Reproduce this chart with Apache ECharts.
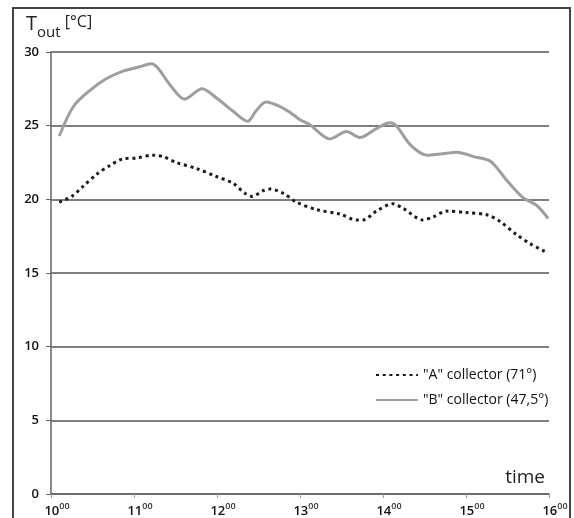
<!DOCTYPE html>
<html>
<head>
<meta charset="utf-8">
<script src="https://cdn.jsdelivr.net/npm/echarts@6/dist/echarts.min.js"></script>
<style>
  html, body { margin: 0; padding: 0; background: #fff; }
  #chart { width: 574px; height: 518px; }
</style>
</head>
<body>
<div id="chart"></div>
<script>
  // outlet temperature of the two collectors
  const timesA = [10.1, 10.25, 10.39, 10.55, 10.71, 10.87, 11.03, 11.23, 11.35, 11.51, 11.75, 11.99, 12.19, 12.34, 12.42, 12.56, 12.64, 12.8, 12.96, 13.2, 13.48, 13.68, 13.76, 13.92, 14.12, 14.24, 14.48, 14.6, 14.77, 15.01, 15.25, 15.41, 15.61, 15.77, 15.97];
  const valuesA = [19.8, 20.2, 20.9, 21.7, 22.3, 22.75, 22.8, 23.0, 22.9, 22.5, 22.1, 21.55, 21.1, 20.4, 20.2, 20.6, 20.7, 20.4, 19.8, 19.3, 19.0, 18.6, 18.6, 19.2, 19.7, 19.4, 18.6, 18.8, 19.2, 19.1, 18.95, 18.5, 17.6, 17.0, 16.4];
  const timesB = [10.1, 10.27, 10.47, 10.67, 10.87, 11.07, 11.21, 11.29, 11.43, 11.61, 11.82, 11.99, 12.19, 12.37, 12.47, 12.59, 12.76, 12.88, 13.0, 13.12, 13.36, 13.56, 13.72, 13.92, 14.08, 14.16, 14.33, 14.53, 14.69, 14.89, 15.09, 15.29, 15.49, 15.69, 15.85, 15.99];
  const valuesB = [24.3, 26.3, 27.4, 28.2, 28.7, 29.0, 29.2, 28.9, 27.8, 26.8, 27.5, 26.9, 26.0, 25.3, 26.0, 26.6, 26.3, 25.9, 25.4, 25.06, 24.1, 24.6, 24.2, 24.8, 25.2, 25.0, 23.7, 23.0, 23.07, 23.2, 22.9, 22.6, 21.3, 20.1, 19.6, 18.7];
  const seriesNames = ['"A" collector (71°)', '"B" collector (47,5°)'];
  const hourTicks = [10, 11, 12, 13, 14, 15, 16];

  const font = 'Open Sans';
  const chart = echarts.init(document.getElementById('chart'));

  const option = {
    backgroundColor: '#fff',
    animation: false,
    graphic: [
      {
        type: 'rect',
        shape: { x: 13, y: 8, width: 557, height: 530 },
        style: { fill: 'none', stroke: '#444', lineWidth: 2 },
        z: 100,
      },
    ],
    title: [
      {
        left: 21,
        top: 9,
        text: '{t|T}{s|out}{u| [°C]}',
        textStyle: {
          rich: {
            t: { fontFamily: font, fontSize: 20, fontWeight: 'normal', color: '#222', verticalAlign: 'top', lineHeight: 26 },
            s: { fontFamily: font, fontSize: 15, fontWeight: 'normal', color: '#222', verticalAlign: 'bottom', lineHeight: 26 },
            u: { fontFamily: font, fontSize: 16, fontWeight: 'normal', color: '#222', verticalAlign: 'top', lineHeight: 26 },
          },
        },
      },
      {
        right: 24,
        top: 463,
        text: 'time',
        textStyle: { fontFamily: font, fontSize: 19, fontWeight: 'normal', color: '#222' },
      },
    ],
    legend: {
      orient: 'vertical',
      left: 370,
      top: 363,
      itemWidth: 42,
      itemHeight: 14,
      itemGap: 11,
      data: seriesNames,
      itemStyle: { opacity: 0 },
      textStyle: { fontFamily: font, fontSize: 14, color: '#111' },
    },
    grid: {
      left: 51,
      right: 25,
      top: 52,
      bottom: 24,
      containLabel: false,
    },
    xAxis: {
      type: 'value',
      min: 10,
      max: 16,
      interval: 1,
      axisLine: { lineStyle: { color: '#666', width: 1.5 } },
      axisTick: { length: 4, lineStyle: { color: '#999' } },
      splitLine: { show: false },
      axisLabel: {
        margin: 8,
        padding: [0, 0, 0, 12],
        formatter: (v) => (hourTicks.includes(v) ? `{h|${v}}{m|00}` : ''),
        rich: {
          h: { fontFamily: font, fontSize: 13, fontWeight: 600, color: '#111', lineHeight: 16, verticalAlign: 'bottom' },
          m: { fontFamily: font, fontSize: 9, fontWeight: 600, color: '#333', lineHeight: 16, verticalAlign: 'top' },
        },
      },
    },
    yAxis: {
      type: 'value',
      min: 0,
      max: 30,
      interval: 5,
      axisLine: { show: true, lineStyle: { color: '#666', width: 1.5 } },
      axisTick: { show: true, length: 5, lineStyle: { color: '#666' } },
      splitLine: { lineStyle: { color: '#555', width: 1.5 } },
      axisLabel: {
        margin: 12,
        fontFamily: font,
        fontSize: 13,
        fontWeight: 600,
        color: '#111',
      },
    },
    series: [
      {
        name: seriesNames[0],
        type: 'line',
        smooth: 0.3,
        showSymbol: false,
        symbol: 'none',
        lineStyle: { color: '#1a1a1a', width: 3, type: [3, 3.7] },
        itemStyle: { color: '#1a1a1a' },
        data: timesA.map((t, i) => [t, valuesA[i]]),
        z: 3,
      },
      {
        name: seriesNames[1],
        type: 'line',
        smooth: 0.3,
        showSymbol: false,
        symbol: 'none',
        lineStyle: { color: '#9e9e9e', width: 3 },
        itemStyle: { color: '#9e9e9e' },
        data: timesB.map((t, i) => [t, valuesB[i]]),
        z: 2,
      },
    ],
  };

  chart.setOption(option);
  window.addEventListener('resize', () => chart.resize());
</script>
</body>
</html>
